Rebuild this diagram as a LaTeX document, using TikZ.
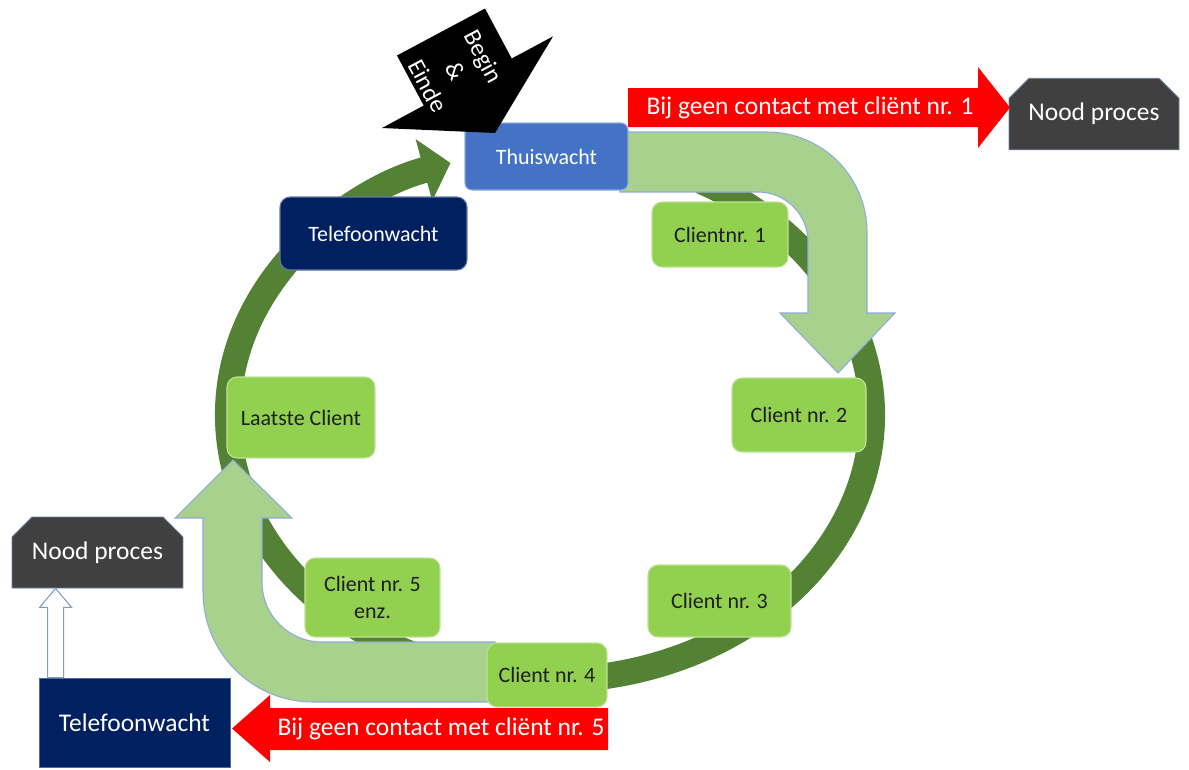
\documentclass[tikz,border=0pt]{standalone}
\usepackage{fontspec}
\setmainfont{Carlito}
\usetikzlibrary{arrows.meta, positioning, shapes.misc, calc}
\definecolor{ringgreen}{RGB}{84,130,53}
\definecolor{lightgreen}{RGB}{169,209,142}
\definecolor{arrowline}{RGB}{143,170,220}
\definecolor{clientgreen}{RGB}{146,208,80}
\definecolor{thuisblue}{RGB}{68,114,196}
\definecolor{navy}{RGB}{0,32,96}
\definecolor{noodgrey}{RGB}{64,64,64}
\definecolor{hollowline}{RGB}{125,155,205}
\tikzset{
  box/.style={rectangle, rounded corners=0.2cm, draw=#1!60!white, line width=0.6pt},
  client/.style={box=clientgreen, fill=clientgreen, text=black!88},
  nood/.style={chamfered rectangle, chamfered rectangle corners={north west, north east},
    chamfered rectangle xsep=0.2cm, chamfered rectangle ysep=0.2cm,
    fill=noodgrey, draw=hollowline!70!noodgrey, line width=0.5pt, text=white,
    minimum width=3.4cm, minimum height=1.43cm, font=\fontsize{14.5}{17}\selectfont},
  bigarrow/.style={fill=lightgreen, draw=arrowline, line width=0.6pt},
  alarm/.style={fill=red, draw=none}
}

\begin{document}
\begin{tikzpicture}[x=0.02cm, y=-0.02cm,
    every node/.style={font=\fontsize{12.5}{15}\selectfont, align=center, inner sep=0pt},
    ring/.style={ringgreen, line width=0.52cm, -{Triangle[length=0.55cm, width=1.25cm]}},
]
\useasboundingbox (0,0) rectangle (1189,769);
\fill[white] (0,0) rectangle (1189,769);

% ring
\coordinate (ringc) at (550,415);
\draw[ring] (ringc) ++(-62:322 and 265) arc[start angle=-62, end angle=252, x radius=322, y radius=265];

% light green arrows
\draw[bigarrow] (620,132) -- (767,132) arc[start angle=-90, end angle=0, radius=100]
  -- (867,313) -- (895,313) -- (838,373) -- (780,313) -- (808,313) -- (808,242)
  arc[start angle=0, end angle=-90, radius=50] -- (620,192) -- cycle;
\draw[bigarrow] (495,642) -- (322,642) arc[start angle=90, end angle=180, radius=60]
  -- (262,518) -- (292,518) -- (233,460) -- (175,518) -- (203,518) -- (203,592)
  arc[start angle=180, end angle=90, radius=110] -- (495,702) -- cycle;

% round
\node[box=thuisblue, fill=thuisblue, text=white, rounded corners=0.14cm, minimum width=3.26cm, minimum height=1.34cm] (thuis) at (546.5,156.5) {Thuiswacht};
\node[box=navy, fill=navy, text=white, minimum width=3.74cm, minimum height=1.46cm] (tel1) at (373.5,233.5) {Telefoonwacht};
\node[client, minimum width=2.72cm, minimum height=1.30cm] (c1) at (720,234.5) {Clientnr. 1};
\node[client, minimum width=2.68cm, minimum height=1.48cm] (c2) at (799,415) {Client nr. 2};
\node[client, minimum width=2.86cm, minimum height=1.44cm] (c3) at (719.5,601) {Client nr. 3};
\node[client, minimum width=2.40cm, minimum height=1.28cm] (c4) at (547,675) {Client nr. 4};
\node[client, minimum width=2.70cm, minimum height=1.58cm] (c5) at (372.5,597.5) {Client nr. 5\\enz.};
\node[client, minimum width=2.96cm, minimum height=1.62cm] (last) at (301,417.5) {Laatste Client};

% begin & einde
\fill[black] (397,55.5) -- (485,8.5) -- (511.7,58.5) -- (553,36.4) -- (495,133) -- (382,128) -- (423.7,105.5) -- cycle;
\node[text=white, rotate=-62, font=\fontsize{14}{18}\selectfont] (start) at (456,71) {Begin\\\&\\Einde};

% emergency
\node[nood] (nood1) at (1094,114) {Nood proces};
\node[nood, minimum width=3.42cm, minimum height=1.42cm] (nood2) at (97.5,552.5) {Nood proces};
\node[rectangle, fill=navy, draw=hollowline!60!navy, line width=0.5pt, text=white, minimum width=3.82cm, minimum height=1.78cm,
  font=\fontsize{14.5}{17}\selectfont] (tel2) at (134.5,722.5) {Telefoonwacht};

\fill[alarm] (628,88) -- (978,88) -- (978,67) -- (1010,107.5) -- (978,148) -- (978,127) -- (628,127) -- cycle;
\node[text=white, font=\fontsize{14.5}{17}\selectfont] (alarm1) at (810,108) {Bij geen contact met cliënt nr. 1};
\fill[alarm] (608,708) -- (270,708) -- (270,695) -- (232,728.5) -- (270,762) -- (270,750) -- (608,750) -- cycle;
\node[text=white, font=\fontsize{14.5}{17}\selectfont] (alarm5) at (441,729) {Bij geen contact met cliënt nr. 5};

% tel2 -> nood2
\coordinate (hbot) at ([xshift=0.34cm]tel2.north west);
\coordinate (htop) at (hbot |- nood2.south);
\draw[fill=white, draw=hollowline, line width=0.6pt] ($(hbot)+(-8,0)$) -- ($(htop)+(-8,19)$) -- ($(htop)+(-16,19)$) -- (htop)
  -- ($(htop)+(16,19)$) -- ($(htop)+(8,19)$) -- ($(hbot)+(8,0)$) -- cycle;

\end{tikzpicture}
\end{document}
